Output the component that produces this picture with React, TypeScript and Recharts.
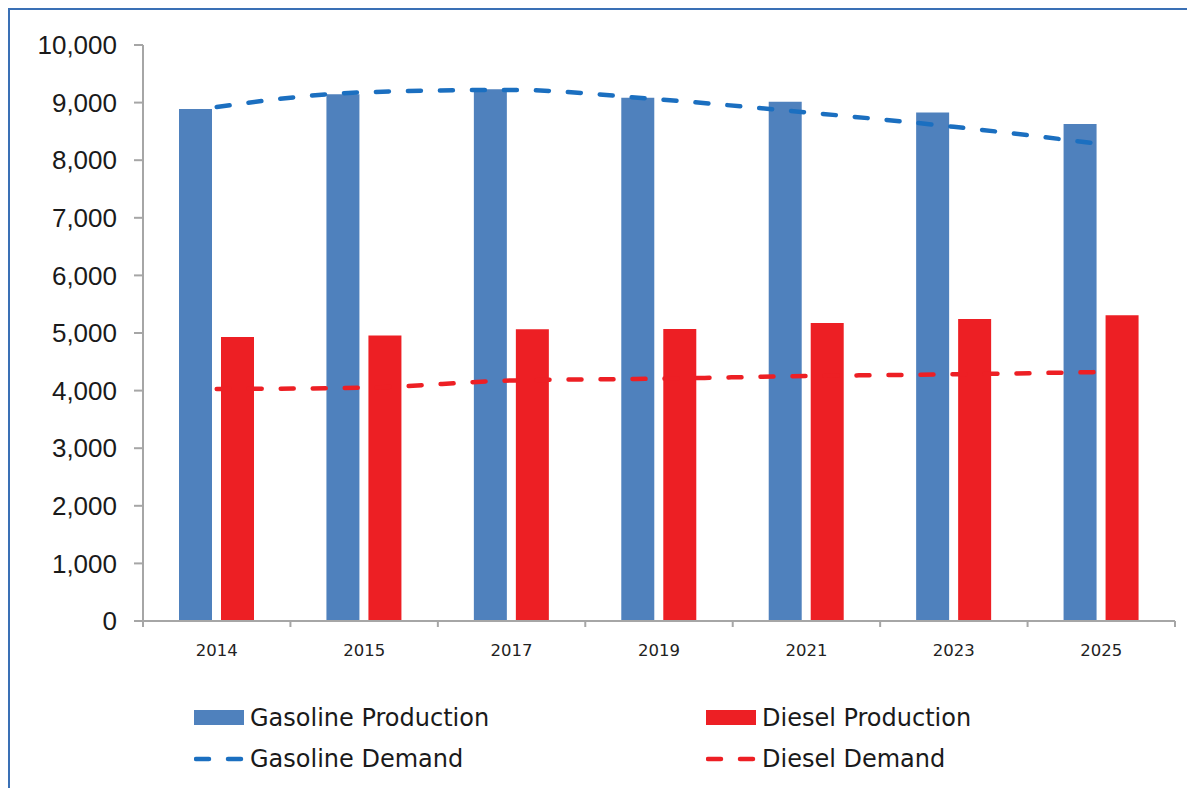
import { ComposedChart, Bar, Line, XAxis, YAxis } from 'recharts'

const years = ['2014', '2015', '2017', '2019', '2021', '2023', '2025']
const gasolineProduction = [8890, 9145, 9230, 9085, 9015, 8830, 8630]
const dieselProduction = [4930, 4955, 5065, 5070, 5175, 5245, 5310]
const gasolineDemand = [8925, 9180, 9220, 9055, 8830, 8580, 8280]
const dieselDemand = [4028, 4050, 4175, 4207, 4253, 4283, 4323]
const yTicks = [0, 1000, 2000, 3000, 4000, 5000, 6000, 7000, 8000, 9000, 10000]

const BLUE_BAR = '#4f81bd'
const RED_BAR = '#ed1f24'
const BLUE_LINE = '#1b6fc0'
const RED_LINE = '#ed1f24'
const AXIS = '#a6a6a6'
const FONT = '"DejaVu Sans", sans-serif'

const data = years.map((year, i) => ({
  year,
  gasolineProduction: gasolineProduction[i],
  dieselProduction: dieselProduction[i],
  gasolineDemand: gasolineDemand[i],
  dieselDemand: dieselDemand[i],
}))

const legendItems = [
  { label: 'Gasoline Production', color: BLUE_BAR, kind: 'bar', col: 0, row: 0 },
  { label: 'Diesel Production', color: RED_BAR, kind: 'bar', col: 1, row: 0 },
  { label: 'Gasoline Demand', color: BLUE_LINE, kind: 'line', col: 0, row: 1 },
  { label: 'Diesel Demand', color: RED_LINE, kind: 'line', col: 1, row: 1 },
]

// category label at band centre, tick marks on the band edges (Excel style)
function YearTick(props: any) {
  const { x, y, payload, index, visibleTicksCount } = props
  const half = payload.offset ?? 0
  const last = index === (visibleTicksCount ?? years.length) - 1
  return (
    <g>
      <line x1={x - half} y1={y} x2={x - half} y2={y + 6} stroke={AXIS} strokeWidth={2} />
      {last && <line x1={x + half} y1={y} x2={x + half} y2={y + 6} stroke={AXIS} strokeWidth={2} />}
      <text x={x} y={y + 23} dy="0.71em" textAnchor="middle" fontFamily={FONT} fontSize={16.5} fill="#222">
        {payload.value}
      </text>
    </g>
  )
}

function LegendBlock() {
  return (
    <>
      {legendItems.map((item) => (
        <div
          key={item.label}
          style={{
            position: 'absolute',
            left: item.col === 0 ? 186 : 698,
            top: item.row === 0 ? 694 : 735,
            height: 32,
            display: 'flex',
            alignItems: 'center',
            fontFamily: FONT,
            fontSize: 24,
            color: '#1a1a1a',
            whiteSpace: 'nowrap',
          }}
        >
          <svg width={52} height={32} style={{ marginRight: 4 }}>
            {item.kind === 'bar' ? (
              <rect x={0} y={8} width={50} height={15} fill={item.color} />
            ) : (
              <line
                x1={2}
                y1={16}
                x2={48}
                y2={16}
                stroke={item.color}
                strokeWidth={4.5}
                strokeLinecap="round"
                strokeDasharray="13 19"
              />
            )}
          </svg>
          {item.label}
        </div>
      ))}
    </>
  )
}

export default function App() {
  return (
    <div style={{ position: 'relative', width: 1187, height: 780, background: '#fff' }}>
      <div
        style={{
          position: 'absolute',
          left: 0,
          top: 0,
          width: 1187,
          height: 780,
          borderLeft: '2px solid #3a70b5',
          borderTop: '2px solid #3a70b5',
          boxSizing: 'border-box',
        }}
      />
      <div style={{ position: 'absolute', left: 2, top: 0 }}>
        <ComposedChart
          width={1185}
          height={678}
          data={data}
          margin={{ top: 37, right: 20, bottom: 0, left: 0 }}
          barGap={9}
        >
          <XAxis
            dataKey="year"
            tickLine={false}
            axisLine={{ stroke: AXIS, strokeWidth: 2 }}
            tickSize={0}
            tickMargin={0}
            height={65}
            interval={0}
            tick={<YearTick />}
          />
          <YAxis
            domain={[0, 10000]}
            ticks={yTicks}
            width={133}
            tickSize={9}
            tickMargin={17}
            axisLine={{ stroke: AXIS, strokeWidth: 2 }}
            tickLine={{ stroke: AXIS, strokeWidth: 2 }}
            tick={{ fontFamily: '"Liberation Sans", sans-serif', fontSize: 26, fill: '#1a1a1a' }}
            tickFormatter={(v: number) => v.toLocaleString('en-US')}
          />
          <Bar dataKey="gasolineProduction" fill={BLUE_BAR} barSize={33} isAnimationActive={false} />
          <Bar dataKey="dieselProduction" fill={RED_BAR} barSize={33} isAnimationActive={false} />
          <Line
            type="monotone"
            dataKey="gasolineDemand"
            stroke={BLUE_LINE}
            strokeWidth={4.5}
            strokeLinecap="round"
            strokeDasharray="13 19"
            dot={false}
            isAnimationActive={false}
          />
          <Line
            type="monotone"
            dataKey="dieselDemand"
            stroke={RED_LINE}
            strokeWidth={4.5}
            strokeLinecap="round"
            strokeDasharray="13 19"
            dot={false}
            isAnimationActive={false}
          />
        </ComposedChart>
      </div>
      <LegendBlock />
    </div>
  )
}
